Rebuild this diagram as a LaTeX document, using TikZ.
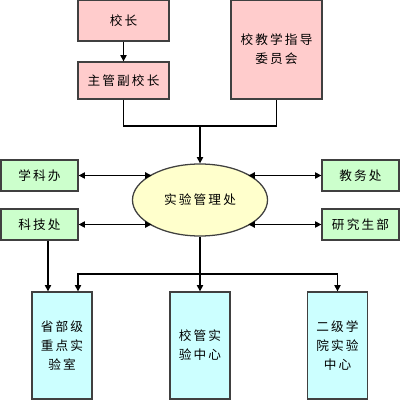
\documentclass[tikz,border=0pt]{standalone}
\usepackage{fontspec}
\usetikzlibrary{arrows.meta,shapes.geometric}
\newfontfamily\cjk[LetterSpace=17]{Noto Sans CJK SC}
\definecolor{bossfill}{HTML}{FFCCCC}
\definecolor{deptfill}{HTML}{CCFFCC}
\definecolor{labfill}{HTML}{CCFFFF}
\definecolor{ovalfill}{HTML}{FFFFCC}

\begin{document}
\begin{tikzpicture}[x=0.025cm,y=-0.025cm,
  base/.style={draw=black!75,line width=0.9pt,inner sep=0pt,align=center,
    font=\cjk\fontsize{9}{13.5}\selectfont},
  boss/.style={base,fill=bossfill,minimum width=2.275cm},
  dept/.style={base,fill=deptfill,minimum width=1.925cm,minimum height=0.775cm},
  lab/.style={base,fill=labfill,minimum width=1.5cm,minimum height=2.675cm},
  oval/.style={base,ellipse,fill=ovalfill,minimum width=3.375cm,minimum height=1.8cm},
  link/.style={line width=0.8pt},
  arr/.style={link,-{Triangle[length=4.5pt,width=4.5pt]}},
  dbl/.style={link,{Triangle[length=4.5pt,width=4.5pt]}-{Triangle[length=4.5pt,width=4.5pt]}}]
\useasboundingbox (0,0) rectangle (400,400);
% leadership
\node[boss,minimum height=1.025cm] (xz) at (123.5,20.5) {校长};
\node[boss,minimum height=0.925cm] (fz) at (123.5,80.5) {主管副校长};
\node[boss,minimum height=2.475cm] (wy) at (276.5,49.5) {校教学指导\\委员会};
% centre and departments
\node[oval] (sy) at (200,200) {实验管理处};
\node[dept] (xk) at (39.5,175.5) {学科办};
\node[dept] (kj) at (39.5,224.5) {科技处};
\node[dept] (jw) at (360.5,175.5) {教务处};
\node[dept] (yj) at (360.5,224.5) {研究生部};
% labs
\node[lab] (sb) at (62,345.5) {省部级\\重点实\\验室};
\node[lab] (xg) at (200,345.5) {校管实\\验中心};
\node[lab] (ej) at (337.5,345.5) {二级学\\院实验\\中心};

\coordinate (top) at (200,126);
\coordinate (bus) at (200,274);
\coordinate (b1) at (78,274);
\coordinate (b2) at (48,240);

\draw[arr] (xz) -- (fz);
\draw[link] (fz.south) |- (top) -| (wy.south);
\draw[arr] (top) -- (sy.north);
\draw[dbl] (xk.east) -- (xk.east -| sy.152);
\draw[dbl] (kj.east) -- (kj.east -| sy.208);
\draw[dbl] (jw.west) -- (jw.west -| sy.28);
\draw[dbl] (yj.west) -- (yj.west -| sy.332);
\draw[link] (sy.south) -- (bus);
\draw[arr] (bus) -- (xg.north);
\draw[arr] (bus) -| (ej.north);
\draw[arr] (bus) -- (b1) -- (sb.north -| b1);
\draw[arr] (kj.south -| b2) -- (sb.north -| b2);
\end{tikzpicture}
\end{document}
